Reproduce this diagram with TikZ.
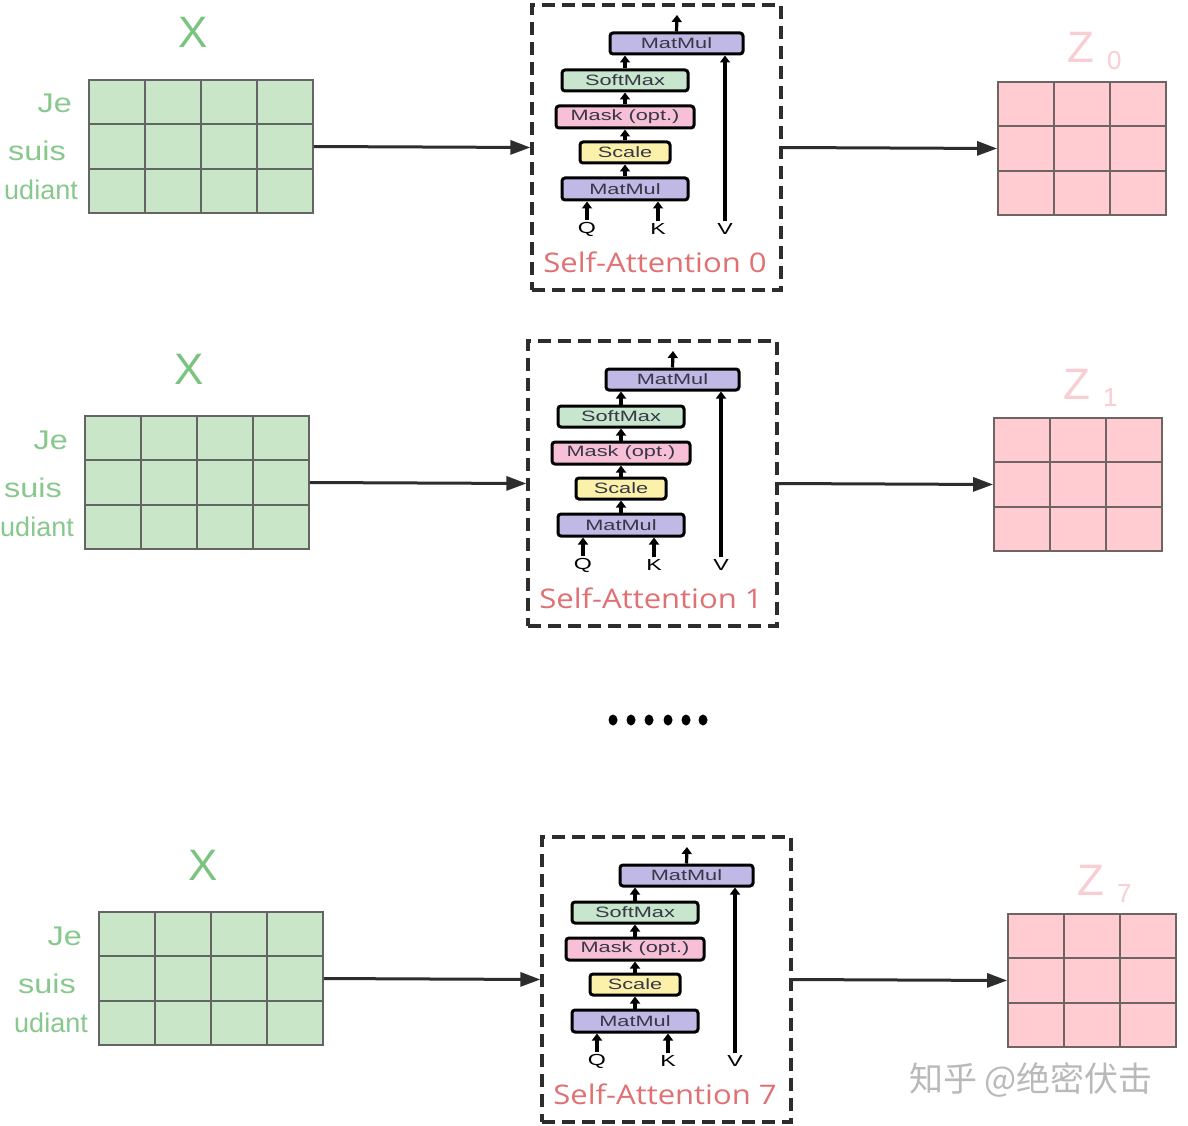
\documentclass[tikz,border=0pt]{standalone}
\usepackage{fontspec}
\setmainfont{Liberation Sans}
\newfontfamily\osans[FakeStretch=1.15]{Open Sans}
\newfontfamily\wordfont[FakeStretch=1.2]{Liberation Sans}
\newfontfamily\modfont[FakeStretch=1.45]{Liberation Sans}
\newfontfamily\cjk{Noto Sans CJK SC}
\usetikzlibrary{arrows.meta,shapes.geometric}
\definecolor{xgreen}{RGB}{122,196,128}
\definecolor{wgreen}{RGB}{135,200,140}
\definecolor{gfill}{RGB}{201,230,201}
\definecolor{gborder}{RGB}{100,100,100}
\definecolor{zfill}{RGB}{255,204,210}
\definecolor{zborder}{RGB}{110,100,100}
\definecolor{zlabc}{RGB}{250,205,210}
\definecolor{sattc}{RGB}{224,112,114}
\definecolor{darkc}{RGB}{45,45,45}
\definecolor{purp}{RGB}{192,185,230}
\definecolor{sgreen}{RGB}{200,230,205}
\definecolor{mpink}{RGB}{248,192,215}
\definecolor{syel}{RGB}{251,241,170}
\definecolor{modtxt}{RGB}{55,55,70}
\definecolor{wmark}{RGB}{185,185,185}
\newcommand\saBlock[4]{%
\begin{scope}[shift={(#1,#2)}]
\node[xlab] (X#4) at (193,48) {X};
\node[word] (je#4) at (72,113) {Je};
\node[word] (suis#4) at (66,161) {suis};
\node[word, font=\fontsize{27}{27}\selectfont] (etu#4) at (78,200) {udiant};
\node[ggrid] (G#4) at (201,146.5) {};
\foreach \xx in {145,201,257} \draw[gline] (\xx,80) -- (\xx,213);
\foreach \yy in {124.3,168.7} \draw[gline] (89,\yy) -- (313,\yy);
\node[dbox] (B#4) at (656.5,147.5) {};
\node[modbox, fill=purp, minimum width=133pt] (MT#4) at (676.5,43.5) {MatMul};
\node[modbox, fill=sgreen, minimum width=126pt] (SM#4) at (625,80.5) {SoftMax};
\node[modbox, fill=mpink, minimum width=138pt, minimum height=22pt] (MK#4) at (625,117) {Mask (opt.)};
\node[modbox, fill=syel, minimum width=90pt] (SC#4) at (625,152.5) {Scale};
\node[modbox, fill=purp, minimum width=126pt, minimum height=22pt] (MB#4) at (625,189) {MatMul};
\node[qkv] (Q#4) at (587,229) {Q};
\node[qkv] (K#4) at (658,229) {K};
\node[qkv] (V#4) at (725,229) {V};
\coordinate (O#4) at (677,15);
\draw[iarr] (Q#4.north) -- (Q#4.north |- MB#4.south);
\draw[iarr] (K#4.north) -- (K#4.north |- MB#4.south);
\draw[iarr] (V#4.north) -- (V#4.north |- MT#4.south);
\draw[iarr] (MB#4.north) -- (SC#4.south);
\draw[iarr] (SC#4.north) -- (MK#4.south);
\draw[iarr] (MK#4.north) -- (SM#4.south);
\draw[iarr] (SM#4.north) -- (SM#4.north |- MT#4.south);
\draw[iarr] (MT#4.north) -- (O#4);
\node[satt] (T#4) at (655,272) {Self-Attention #3};
\node[zgrid] (Z#4) at (1082,148.5) {};
\foreach \xx in {1054,1110} \draw[zline] (\xx,82) -- (\xx,215);
\foreach \yy in {126.3,170.7} \draw[zline] (998,\yy) -- (1166,\yy);
\node[zlab] (ZL#4) at (1067,63) {Z};
\node[zsub] (ZS#4) at (1107,70) {#3};
\draw[conn] (G#4.east) -- (B#4.west);
\draw[conn] (B#4.east) -- (Z#4.west);
\end{scope}}
\begin{document}
\begin{tikzpicture}[x=1pt,y=-1pt,
  xlab/.style={anchor=base, inner sep=0, text=xgreen, font=\fontsize{44}{44}\selectfont},
  word/.style={anchor=base east, inner sep=0, text=wgreen, font=\wordfont\fontsize{27}{27}\selectfont},
  ggrid/.style={draw=gborder, line width=1.8pt, fill=gfill, minimum width=224pt, minimum height=133pt, inner sep=0},
  gline/.style={draw=gborder, line width=1.8pt},
  zgrid/.style={draw=zborder, line width=1.8pt, fill=zfill, minimum width=168pt, minimum height=133pt, inner sep=0},
  zline/.style={draw=zborder, line width=1.8pt},
  dbox/.style={draw=darkc, line width=3.2pt, dash pattern=on 13pt off 7pt, minimum width=249pt, minimum height=285pt, inner sep=0},
  modbox/.style={draw=black, line width=3pt, rounded corners=3pt, minimum height=21pt, inner sep=0, text=modtxt, font=\modfont\fontsize{15}{15}\selectfont},
  qkv/.style={inner sep=2pt, text=black, font=\modfont\fontsize{16}{16}\selectfont},
  iarr/.style={draw=black, line width=3.2pt, -{Triangle[length=7pt,width=10pt]}},
  satt/.style={anchor=base, inner sep=0, text=sattc, font=\osans\fontsize{27}{27}\selectfont},
  zlab/.style={anchor=base west, inner sep=0, text=zlabc, font=\fontsize{44}{44}\selectfont},
  zsub/.style={anchor=base west, inner sep=0, text=zlabc, font=\fontsize{26}{26}\selectfont},
  conn/.style={draw=darkc, line width=3pt, -{Triangle[length=20pt,width=14pt]}},
  dotn/.style={ellipse, fill=black, minimum width=9pt, minimum height=11pt, inner sep=0},
  wm/.style={text=wmark, font=\cjk\fontsize{34}{34}\selectfont, inner sep=0}
]
\useasboundingbox (0,0) rectangle (1188,1126);
\fill[white] (0,0) rectangle (1188,1126);
\saBlock{0}{0}{0}{a}
\saBlock{-4}{336}{1}{b}
\saBlock{10}{832}{7}{c}
\node[dotn] (d1) at (613,720) {};
\node[dotn] (d2) at (631,720) {};
\node[dotn] (d3) at (649,720) {};
\node[dotn] (d4) at (668,720) {};
\node[dotn] (d5) at (686,720) {};
\node[dotn] (d6) at (703,720) {};
\node[wm] (wmk) at (1031,1080) {知乎 @绝密伏击};
\end{tikzpicture}
\end{document}
